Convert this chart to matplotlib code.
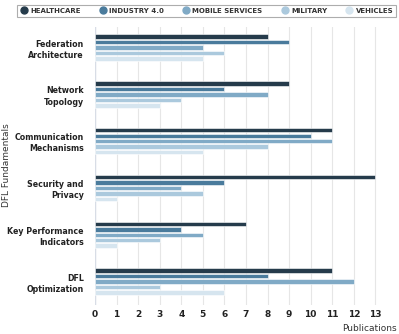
import matplotlib.pyplot as plt
from matplotlib.lines import Line2D
import numpy as np

categories = ["Federation\nArchitecture", "Network\nTopology", "Communication\nMechanisms",
              "Security and\nPrivacy", "Key Performance\nIndicators", "DFL\nOptimization"]
series = ["HEALTHCARE", "INDUSTRY 4.0", "MOBILE SERVICES", "MILITARY", "VEHICLES"]
healthcare = [8, 9, 11, 13, 7, 11]
industry = [9, 6, 10, 6, 4, 8]
mobile = [5, 8, 11, 4, 5, 12]
military = [6, 4, 8, 5, 3, 3]
vehicles = [5, 3, 5, 1, 1, 6]
colors = ["#253b4b", "#4a7b9c", "#80aac6", "#abc9dd", "#d6e5ef"]

values = [healthcare, industry, mobile, military, vehicles]

fig = plt.figure(figsize=(3.99, 3.34), dpi=100)
ax = fig.add_axes([0.238, 0.087, 0.757, 0.832])

y = np.arange(len(categories))
pitch = 0.117
for k, (vals, c) in enumerate(zip(values, colors)):
    ax.barh(y + (k - 2) * pitch, vals, height=0.095, color=c, edgecolor="white",
            linewidth=0.4, zorder=3)

ax.set_ylim(5.5, -0.44)
ax.set_xlim(0, 14)
ax.set_xticks(range(0, 14))
ax.set_yticks(y)
ax.set_yticklabels(categories, fontsize=5.7, fontweight="bold", color="#222222",
                   linespacing=1.3)
ax.tick_params(axis="x", labelsize=6.5, length=0, pad=4, colors="#222222")
ax.tick_params(axis="y", length=0, pad=8)
for t in ax.get_xticklabels():
    t.set_fontweight("bold")
ax.grid(axis="x", color="#e6e6e6", linewidth=0.8, zorder=0)
ax.axvline(0, color="#d8dde6", linewidth=1, zorder=2)
for s in ax.spines.values():
    s.set_visible(False)

fig.text(0.016, 0.506, "DFL Fundamentals", rotation=90, ha="center", va="center",
         fontsize=6.5, color="#333333")
fig.text(0.995, 0.009, "Publications", ha="right", va="baseline", fontsize=6.5, color="#333333")

handles = [Line2D([], [], marker="o", linestyle="", markersize=5, color=c) for c in colors]
leg = fig.legend(handles, series, loc="upper center", bbox_to_anchor=(0.518, 0.995), ncol=5,
                 frameon=True, fancybox=False, handletextpad=0.4,
                 columnspacing=2.7, borderpad=0.4, handlelength=1.0,
                 prop={"weight": "bold", "size": 5.0})
leg.get_frame().set_edgecolor("#999999")
leg.get_frame().set_linewidth(0.8)
for t in leg.get_texts():
    t.set_color("#333333")

fig.savefig("out.png", dpi=100)
